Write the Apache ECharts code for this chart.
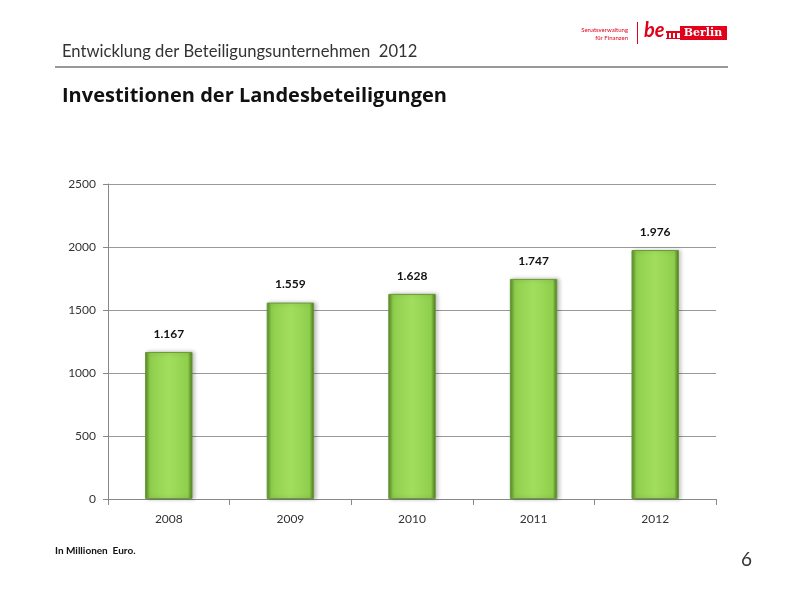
<!DOCTYPE html>
<html><head><meta charset="utf-8">
<script src="https://cdn.jsdelivr.net/npm/echarts@6/dist/echarts.min.js"></script>
<style>html,body{margin:0;padding:0;background:#fff}#c{width:800px;height:600px}</style>
</head><body><div id="c"></div>
<script>
const categories = ['2008', '2009', '2010', '2011', '2012'];
const investitionen = [1167, 1559, 1628, 1747, 1976];
const yTicks = [0, 500, 1000, 1500, 2000, 2500];

const chart = echarts.init(document.getElementById('c'));
const FONT = 'Lato';
const RED = '#e2001a';
function fmt(v){ const s = String(v); return s.length > 3 ? s.slice(0, s.length-3) + '.' + s.slice(-3) : s; }

chart.setOption({
  animation: false,
  grid: { left: 108, right: 84, top: 184, bottom: 101 },
  xAxis: {
    type: 'category', data: categories,
    axisLine: { lineStyle: { color: '#888', width: 1 } },
    axisTick: { show: true, length: 6, lineStyle: { color: '#888' } },
    axisLabel: { color: '#333', fontFamily: FONT, fontSize: 12, margin: 14 }
  },
  yAxis: {
    type: 'value', min: yTicks[0], max: yTicks[yTicks.length-1], interval: 500,
    axisLine: { show: true, lineStyle: { color: '#888' } },
    axisTick: { show: true, length: 5, lineStyle: { color: '#888' } },
    splitLine: { lineStyle: { color: '#999', width: 1 } },
    axisLabel: { color: '#333', fontFamily: FONT, fontSize: 12, margin: 12, formatter: v => String(v) }
  },
  series: [{
    type: 'bar', data: investitionen, barWidth: '39%',
    itemStyle: {
      color: { type: 'linear', x: 0, y: 0, x2: 1, y2: 0, colorStops: [
        { offset: 0, color: '#56862a' }, { offset: 0.1, color: '#8fcf4c' },
        { offset: 0.5, color: '#a2de5e' }, { offset: 0.9, color: '#8fcf4c' },
        { offset: 1, color: '#4a7420' }] },
      borderColor: '#6a9a35', borderWidth: 1,
      shadowColor: 'rgba(0,0,0,0.25)', shadowBlur: 4, shadowOffsetX: 2, shadowOffsetY: 0
    },
    label: { show: true, position: 'top', distance: 12, color: '#111', fontFamily: FONT,
      fontWeight: 'bold', fontSize: 12, formatter: p => fmt(p.value) }
  }],
  graphic: [
    { type: 'text', left: 62, top: 43, style: { text: 'Entwicklung der Beteiligungsunternehmen  2012', font: '16.6px ' + FONT, fill: '#333' } },
    { type: 'rect', shape: { x: 55, y: 66, width: 673, height: 2 }, style: { fill: '#999' } },
    { type: 'text', left: 62, top: 86, style: { text: 'Investitionen der Landesbeteiligungen', font: 'bold 20px "Open Sans"', fill: '#111' } },
    { type: 'text', left: 55, top: 546, style: { text: 'In Millionen  Euro.', font: 'bold 10px ' + FONT, fill: '#111' } },
    { type: 'text', left: 741, top: 550, style: { text: '6', font: '19px ' + FONT, fill: '#333' } },
    // logo
    { type: 'text', x: 628, y: 27, style: { text: 'Senatsverwaltung', font: '6px ' + FONT, fill: RED, align: 'right' } },
    { type: 'text', x: 628, y: 35, style: { text: 'für Finanzen', font: '6px ' + FONT, fill: RED, align: 'right' } },
    { type: 'rect', shape: { x: 637, y: 22, width: 1, height: 22 }, style: { fill: RED } },
    { type: 'text', x: 644, y: 21, style: { text: 'be', font: 'italic bold 20px ' + FONT, fill: RED } },
    { type: 'rect', shape: { x: 666, y: 31, width: 14, height: 2 }, style: { fill: RED } },
    { type: 'rect', shape: { x: 667, y: 33, width: 2, height: 6 }, style: { fill: RED } },
    { type: 'rect', shape: { x: 671, y: 33, width: 2, height: 6 }, style: { fill: RED } },
    { type: 'rect', shape: { x: 675, y: 33, width: 2, height: 6 }, style: { fill: RED } },
    { type: 'rect', shape: { x: 666, y: 38, width: 14, height: 1 }, style: { fill: RED } },
    { type: 'rect', shape: { x: 680, y: 26, width: 47, height: 14 }, style: { fill: RED } },
    { type: 'text', x: 703, y: 33, style: { text: 'Berlin', font: 'bold 11px "DejaVu Serif"', fill: '#fff', align: 'center', verticalAlign: 'middle' } }
  ]
});
</script></body></html>
